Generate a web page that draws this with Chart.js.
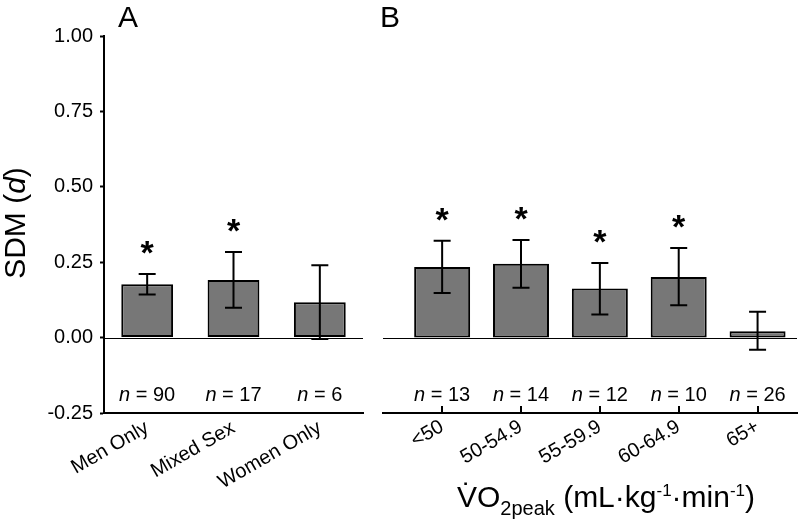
<!DOCTYPE html>
<html><head><meta charset="utf-8">
<script src="https://cdn.jsdelivr.net/npm/chart.js@4/dist/chart.umd.min.js"></script>
<style>
html,body{margin:0;padding:0;background:#fff;}
#wrap{position:relative;width:800px;height:530px;overflow:hidden;background:#fff}
canvas{position:absolute;top:0}
#cA{left:0}
#cB{left:380px}
</style></head><body>
<div id="wrap"><canvas id="cA" width="380" height="530"></canvas><canvas id="cB" width="420" height="530"></canvas></div>
<script>
// ---- Panel A: sex composition ----
const sexLabels = ['Men Only', 'Mixed Sex', 'Women Only'];
const sexMeans  = [0.177, 0.191, 0.117];
const sexLower  = [0.143, 0.099, -0.005];
const sexUpper  = [0.211, 0.284, 0.240];
const sexN      = [90, 17, 6];
const sexSig    = [true, true, false];

// ---- Panel B: VO2peak category ----
const vo2Labels = ['<50', '50-54.9', '55-59.9', '60-64.9', '65+'];
const vo2Means  = [0.234, 0.245, 0.163, 0.201, 0.021];
const vo2Lower  = [0.148, 0.165, 0.077, 0.107, -0.040];
const vo2Upper  = [0.321, 0.324, 0.247, 0.297, 0.086];
const vo2N      = [13, 14, 12, 10, 26];
const vo2Sig    = [true, true, true, true, false];

// ---- shared y axis ----
const yMin = -0.25, yMax = 1.00, yStep = 0.25;

const FONT = '"Liberation Sans", Arial, Helvetica, sans-serif';
Chart.defaults.font.family = FONT;
Chart.defaults.color = '#000';

function drawRich(ctx, parts, x, y) {
  let cx = x;
  for (const p of parts) {
    ctx.font = p.font;
    ctx.fillText(p.t, cx, y + (p.dy || 0));
    p.x0 = cx;
    p.w = ctx.measureText(p.t).width;
    cx += p.w;
  }
  return cx - x;
}
function richWidth(ctx, parts) {
  let w = 0;
  for (const p of parts) { ctx.font = p.font; w += ctx.measureText(p.t).width; }
  return w;
}

function annotations(cfg) {
  return {
    id: 'annot' + cfg.letter,
    beforeDatasetsDraw(chart) {
      const {ctx, chartArea} = chart;
      const y = chart.scales.y;
      const y0 = Math.round(y.getPixelForValue(0)) + 0.5;
      ctx.save();
      ctx.strokeStyle = '#000'; ctx.lineWidth = 1;
      ctx.beginPath(); ctx.moveTo(chartArea.left, y0); ctx.lineTo(chartArea.right, y0); ctx.stroke();
      ctx.restore();
    },
    afterDatasetsDraw(chart) {
      const {ctx, chartArea} = chart;
      const y = chart.scales.y;
      const meta = chart.getDatasetMeta(0);
      ctx.save();
      ctx.strokeStyle = '#000'; ctx.fillStyle = '#000'; ctx.lineWidth = 2;
      meta.data.forEach((bar, i) => {
        const x = bar.x;
        const yh = y.getPixelForValue(cfg.upper[i]);
        const yl = y.getPixelForValue(cfg.lower[i]);
        ctx.beginPath();
        ctx.moveTo(x, yh); ctx.lineTo(x, yl);
        ctx.moveTo(x - 8.5, yh); ctx.lineTo(x + 8.5, yh);
        ctx.moveTo(x - 8.5, yl); ctx.lineTo(x + 8.5, yl);
        ctx.stroke();
        if (cfg.sig[i]) {
          ctx.font = 'bold 34px ' + FONT;
          ctx.textAlign = 'center'; ctx.textBaseline = 'alphabetic';
          ctx.fillText('*', x, yh - 10);
        }
        const parts = [
          {t: 'n', font: 'italic 20px ' + FONT},
          {t: ' = ' + cfg.n[i], font: '20px ' + FONT}
        ];
        ctx.textAlign = 'left'; ctx.textBaseline = 'alphabetic';
        const w = richWidth(ctx, parts);
        drawRich(ctx, parts, x - w / 2, chartArea.bottom - 12);
      });
      if (cfg.innerTicks) {
        const xs = chart.scales.x;
        ctx.beginPath();
        cfg.labels.forEach((_, i) => {
          const px = Math.round(xs.getPixelForValue(i));
          ctx.moveTo(px, chartArea.bottom); ctx.lineTo(px, chartArea.bottom - 7);
        });
        ctx.stroke();
      }
      ctx.restore();
    },
    afterDraw(chart) {
      const {ctx} = chart;
      ctx.save();
      ctx.fillStyle = '#000';
      ctx.textBaseline = 'alphabetic';
      ctx.font = '30px ' + FONT; ctx.textAlign = 'left';
      ctx.fillText(cfg.letter, cfg.letterX, 27);
      if (cfg.yTitle) {
        const parts = [
          {t: 'SDM (', font: '30px ' + FONT},
          {t: 'd', font: 'italic 30px ' + FONT},
          {t: ')', font: '30px ' + FONT}
        ];
        const w = richWidth(ctx, parts);
        ctx.translate(25, 223);
        ctx.rotate(-Math.PI / 2);
        drawRich(ctx, parts, -w / 2, 0);
        ctx.setTransform(1, 0, 0, 1, 0, 0);
      }
      if (cfg.xTitle) {
        const main = '30px ' + FONT, sub = '20px ' + FONT, sup = '17px ' + FONT;
        const parts = [
          {t: 'V', font: main},
          {t: 'O', font: main},
          {t: '2peak', font: sub, dy: 8},
          {t: ' (mL\u00B7kg', font: main},
          {t: '-1', font: sup, dy: -11},
          {t: '\u00B7min', font: main},
          {t: '-1', font: sup, dy: -11},
          {t: ')', font: main}
        ];
        const w = richWidth(ctx, parts);
        const bx = cfg.xTitleCenter - w / 2;
        drawRich(ctx, parts, bx, 507);
        ctx.font = main; ctx.textAlign = 'center';
        ctx.fillText('\u02D9', parts[0].x0 + parts[0].w / 2, 507 - 3);
      }
      ctx.restore();
    }
  };
}

function yAxis(show) {
  const ax = {
    type: 'linear', min: yMin, max: yMax,
    display: show,
    afterBuildTicks(scale) {
      const t = [];
      for (let v = yMin; v <= yMax + 1e-9; v += yStep) t.push({value: Math.round(v * 100) / 100});
      scale.ticks = t;
    },
    border: {display: true, color: '#000', width: 2},
    grid: {display: true, drawOnChartArea: false, drawTicks: true, tickLength: 4, tickWidth: 2, tickColor: '#000', color: '#000'},
    ticks: {font: {size: 20}, color: '#000', padding: 7, callback: v => Number(v).toFixed(2)}
  };
  if (show) ax.afterFit = scale => { scale.width = 104; };
  return ax;
}

// ---- Chart A ----
new Chart(document.getElementById('cA'), {
  type: 'bar',
  data: {
    labels: sexLabels,
    datasets: [{
      data: sexMeans,
      backgroundColor: '#777777', borderColor: '#000', borderWidth: 2, borderSkipped: false,
      categoryPercentage: 1.0, barPercentage: 0.60
    }]
  },
  options: {
    responsive: false, animation: false, devicePixelRatio: 1,
    layout: {padding: {top: 36, right: 17, left: 0, bottom: 0}},
    plugins: {legend: {display: false}, tooltip: {enabled: false}},
    scales: {
      x: {
        type: 'category', offset: true,
        afterFit(scale) { scale.height = 117; },
        border: {display: true, color: '#000', width: 2},
        grid: {display: false, drawTicks: false},
        ticks: {font: {size: 20}, color: '#000', minRotation: 30, maxRotation: 30, autoSkip: false, padding: 3}
      },
      y: yAxis(true)
    }
  },
  plugins: [annotations({letter: 'A', letterX: 118, upper: sexUpper, lower: sexLower, sig: sexSig, n: sexN, labels: sexLabels, yTitle: true})]
});

// ---- Chart B ----
new Chart(document.getElementById('cB'), {
  type: 'bar',
  data: {
    datasets: [{
      data: vo2Means.map((v, i) => ({x: i, y: v})),
      backgroundColor: '#777777', borderColor: '#000', borderWidth: 2, borderSkipped: false,
      categoryPercentage: 1.0, barPercentage: 0.71
    }]
  },
  options: {
    responsive: false, animation: false, devicePixelRatio: 1,
    layout: {padding: {top: 36, right: 3, left: 3, bottom: 0}},
    plugins: {legend: {display: false}, tooltip: {enabled: false}},
    scales: {
      x: {
        type: 'linear', min: -0.75, max: 4.5, offset: false,
        afterBuildTicks(scale) { scale.ticks = vo2Labels.map((_, i) => ({value: i})); },
        afterFit(scale) { scale.height = 117; },
        border: {display: true, color: '#000', width: 2},
        grid: {display: false, drawTicks: false, offset: false},
        ticks: {font: {size: 20}, color: '#000', minRotation: 30, maxRotation: 30, autoSkip: false, padding: 2,
                callback: v => vo2Labels[v]}
      },
      y: yAxis(false)
    }
  },
  plugins: [annotations({letter: 'B', letterX: 0, upper: vo2Upper, lower: vo2Lower, sig: vo2Sig, n: vo2N, labels: vo2Labels, innerTicks: true, xTitle: true, xTitleCenter: 226})]
});
</script>
</body></html>
